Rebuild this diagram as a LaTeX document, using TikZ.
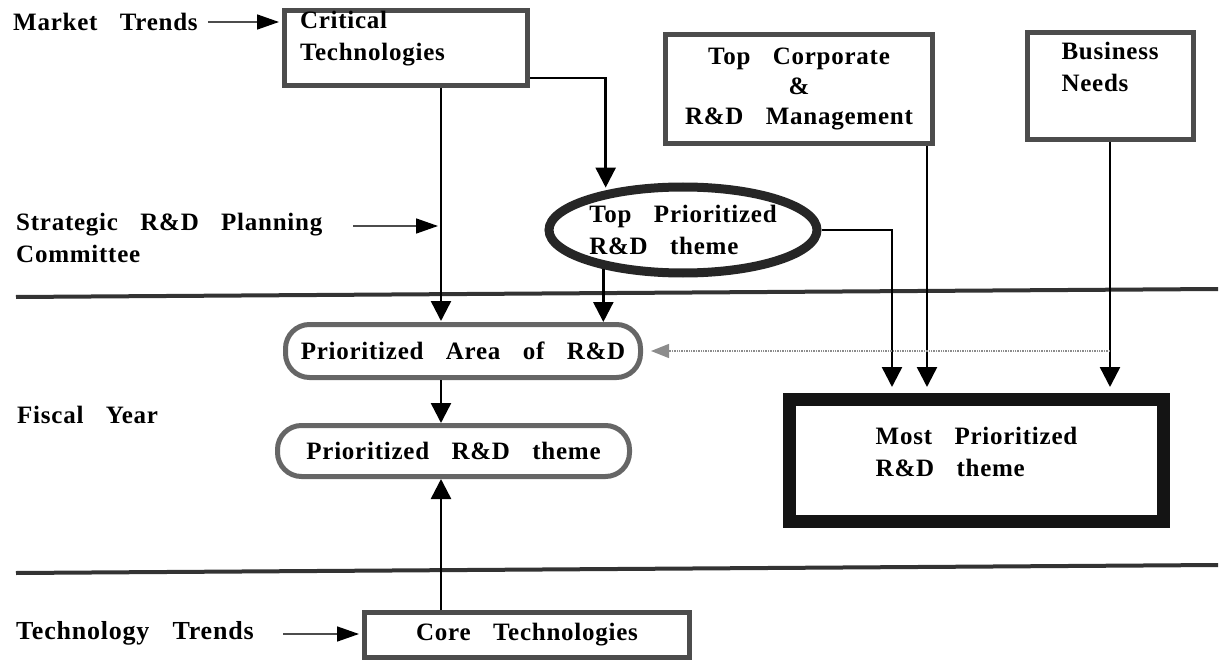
\documentclass[tikz,border=0pt]{standalone}
\usepackage{fontspec}
\setmainfont{Liberation Serif}
\newfontfamily\lblfam{Liberation Serif}[LetterSpace=3,WordSpace=3.2]
\usetikzlibrary{arrows.meta,shapes.geometric}
\newcommand\lblfont{\lblfam\bfseries\fontsize{25pt}{32pt}\selectfont}
\newcommand\lblfonttight{\lblfam\bfseries\fontsize{25pt}{30pt}\selectfont}
\begin{document}
\begin{tikzpicture}[x=1pt,y=-1pt,
  lbl/.style={font=\lblfont, inner sep=0pt},
  sqbox/.style={lbl, draw=black!70, line width=5pt},
  rbox/.style={lbl, draw=black!60, line width=5pt, rounded corners=24pt},
  arr/.style={line width=2.5pt, -{Triangle[width=20pt,length=20pt]}},
  sarr/.style={line width=1.6pt, draw=black!70, -{Triangle[width=15pt,length=22pt,fill=black,color=black]}},
  darr/.style={line width=1.4pt, draw=black!45, densely dotted, -{Triangle[width=14pt,length=18pt,fill=black!45,color=black!45]}},
  hline/.style={line width=4pt, draw=black!80}]
\useasboundingbox (0,0) rectangle (1221,663);

% left labels
\node[lbl, anchor=west] (mkt) at (13,22) {Market Trends};
\node[lbl, anchor=west, align=left] (strat) at (16,238) {Strategic R\&D Planning\\Committee};
\node[lbl, anchor=west] (fy) at (17,415) {Fiscal Year};
\node[lbl, anchor=west, font=\lblfam\bfseries\fontsize{26pt}{32pt}\selectfont] (tech) at (16,633) {Technology Trends};

% boxes
\node[sqbox, minimum width=243pt, minimum height=73pt, text width=212pt, align=left, text depth=57pt] (crit) at (406,48) {Critical\\Technologies};
\node[sqbox, font=\lblfonttight, align=center, minimum width=267pt, minimum height=109pt] (topc) at (799,89) {Top Corporate\\\&\\R\&D Management};
\node[sqbox, align=left, minimum width=166pt, minimum height=107pt, text depth=39pt] (bus) at (1110,86) {Business\\Needs};
\node[lbl, ellipse, draw=black!85, line width=9pt, align=left, minimum width=268pt, minimum height=86pt] (top) at (683,230) {Top Prioritized\\R\&D theme};
\node[rbox, minimum width=355pt, minimum height=53pt] (area) at (463,351) {Prioritized Area of R\&D};
\node[rbox, minimum width=352pt, minimum height=51pt] (theme) at (453.5,451) {Prioritized R\&D theme};
\node[lbl, draw=black!92, line width=13pt, align=left, minimum width=374pt, minimum height=122pt, text depth=18pt] (most) at (976.5,460.5) {Most Prioritized\\R\&D theme};
\node[sqbox, minimum width=325pt, minimum height=45pt] (core) at (527,635) {Core Technologies};

% horizontal separators
\coordinate (l1a) at (16,297);
\coordinate (l1b) at (1218,289);
\coordinate (l2a) at (16,573);
\coordinate (l2b) at (1218,565);
\draw[hline] (l1a) -- (l1b);
\draw[hline] (l2a) -- (l2b);

% connectors
\coordinate (cx) at (441,0);
\coordinate (mx1) at (892,0);
\coordinate (mx2) at (927,0);
\coordinate (sa) at (353,226);
\coordinate (ta) at (283,634);

\draw[arr, shorten >=1pt] (crit.south -| cx) -- (area.north -| cx);
\draw[arr] (area.south -| cx) -- (theme.north -| cx);
\draw[arr] (core.north -| cx) -- (theme.south -| cx);
\draw[arr, shorten >=3pt] ([yshift=-30pt]crit.east) -| (top.153.7);
\draw[arr] (top.206.3) -- (top.206.3 |- area.north);
\draw[arr, shorten >=6pt] (top.east) -| (most.north -| mx1);
\draw[arr, shorten >=6pt] (topc.south -| mx2) -- (most.north -| mx2);
\draw[arr, shorten >=6pt] (bus.south) -- (bus.south |- most.north);
\draw[darr] (bus.south |- area.east) -- ([xshift=8pt]area.east);

\draw[sarr, shorten >=3pt] ([xshift=10pt]mkt.east) -- (crit.west |- mkt.east);
\draw[sarr, shorten >=3pt] (sa) -- (sa -| cx);
\draw[sarr, shorten >=3pt] (ta) -- (core.west |- ta);
\end{tikzpicture}
\end{document}
